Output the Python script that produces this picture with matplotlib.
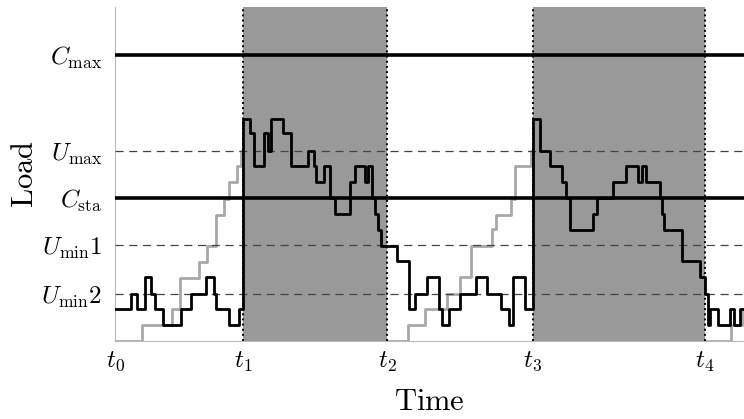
import numpy as np
import matplotlib
matplotlib.use("Agg")
import matplotlib.pyplot as plt

plt.rcParams["mathtext.fontset"] = "cm"

# time markers and their labels
t_ticks = [0, 128, 272, 418, 590]
t_labels = [r"$t_0$", r"$t_1$", r"$t_2$", r"$t_3$", r"$t_4$"]

# load levels
C_max = 286
U_max = 190
C_sta = 143
U_min1 = 96
U_min2 = 47
level_labels = [r"$C_{\max}$", r"$U_{\max}$", r"$C_{\rm sta}$",
                r"$U_{\min}1$", r"$U_{\min}2$"]

# black load curve (step, post)
black_t = [0, 16, 22, 30, 36, 40, 48, 66, 76, 91, 99, 101, 114, 124, 128,
           135, 139, 149, 153, 156, 168, 176, 193, 199, 201, 209, 215, 220,
           235, 240, 250, 253, 257, 260, 263, 266, 282, 294, 300, 312, 324,
           327, 334, 345, 361, 372, 386, 394, 398, 410, 418, 425, 435, 447,
           451, 455, 478, 482, 498, 511, 523, 527, 531, 545, 547, 549, 567,
           585, 590, 593, 595, 603, 615, 619, 625, 629]
black_load = [32, 47, 32, 64, 47, 32, 16, 32, 47, 64, 47, 32, 16, 32, 222,
              208, 175, 208, 190, 222, 208, 175, 190, 175, 159, 175, 143, 127,
              159, 175, 159, 175, 143, 127, 111, 95, 80, 32, 47, 64, 32,
              16, 32, 47, 64, 47, 32, 16, 64, 32, 222, 190, 175, 159,
              143, 111, 127, 143, 159, 175, 159, 175, 159, 143, 127, 111, 80,
              64, 47, 16, 32, 16, 32, 16, 32, 32]

# gray load curve (hidden inside the shaded windows)
gray_t = [0, 27, 57, 65, 84, 92, 101, 109, 114, 122, 126, 128,
          272, 293, 310, 332, 345, 356, 377, 381, 396, 400, 416, 418,
          590, 616, 627, 629]
gray_load = [0, 16, 32, 63, 79, 95, 126, 142, 159, 175, 190, np.nan,
             0, 16, 32, 47, 64, 95, 112, 126, 142, 175, 190, np.nan,
             0, 16, 32, 32]

# shaded windows
windows = [(128, 272), (418, 590)]

fig = plt.figure(figsize=(7.44, 4.19), dpi=100)
ax = fig.add_axes([0.1546, 0.1862, 0.8454, 0.7971])

ax.step(gray_t, gray_load, where="post", color="#a8a8a8", lw=2.0, zorder=1)

for a, b in windows:
    ax.axvspan(a, b, color="#999999", lw=0, zorder=2)

for t in t_ticks[1:]:
    ax.axvline(t, color="black", ls=":", lw=1.4, zorder=3)

for lev in [C_max, C_sta]:
    ax.axhline(lev, color="black", lw=2.6, zorder=3)
for lev in [U_max, U_min1, U_min2]:
    ax.axhline(lev, color="#444444", lw=0.9, dashes=(6.5, 4.5), zorder=3)

ax.step(black_t, black_load, where="post", color="black", lw=2.0, zorder=4)

ax.set_xlim(0, 629)
ax.set_ylim(0, 334)
ax.set_xticks(t_ticks)
ax.set_xticklabels(t_labels, fontsize=18)
ax.set_yticks([C_max, U_max, C_sta, U_min1, U_min2])
ax.set_yticklabels(level_labels, fontsize=18)
ax.tick_params(axis="y", length=0, pad=9)
ax.tick_params(axis="x", length=0, pad=6)

for s in ["top", "right"]:
    ax.spines[s].set_visible(False)
for s in ["left", "bottom"]:
    ax.spines[s].set_color("#bbbbbb")
    ax.spines[s].set_linewidth(0.8)

ax.set_xlabel(r"$\mathrm{Time}$", fontsize=22, labelpad=10)
ax.set_ylabel(r"$\mathrm{Load}$", fontsize=22, labelpad=2)

fig.savefig("out.png", dpi=100)
